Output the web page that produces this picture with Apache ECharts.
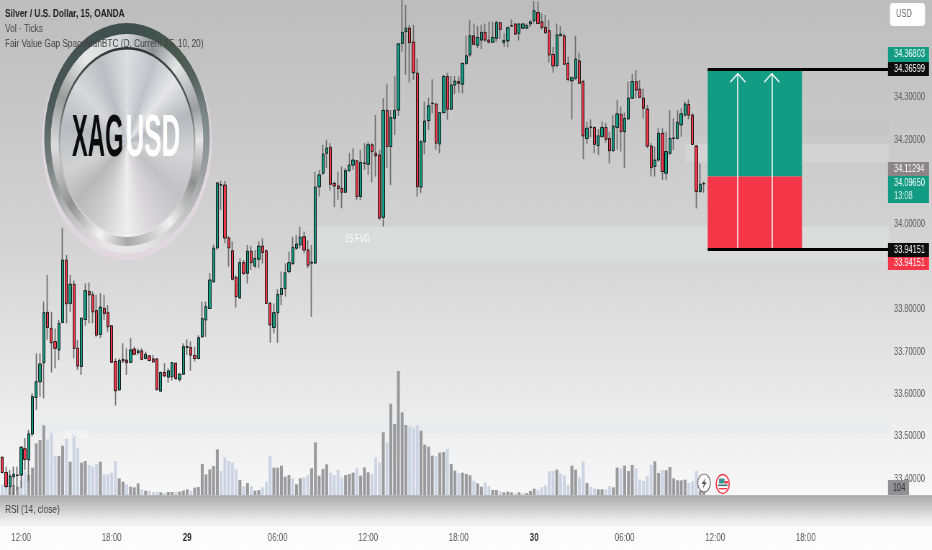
<!DOCTYPE html>
<html><head><meta charset="utf-8">
<style>html,body{margin:0;padding:0;background:#fff;width:932px;height:550px;overflow:hidden}#c{width:1295px;height:550px;transform:scaleX(0.71969);transform-origin:0 0}</style>
<script src="https://cdn.jsdelivr.net/npm/echarts@6/dist/echarts.min.js"></script>
</head><body><div id="c"></div>
<script>
const open=[33.451,33.415,33.382,33.405,33.409,33.409,33.471,33.445,33.506,33.592,33.629,33.674,33.793,33.755,33.724,33.704,33.769,33.916,33.814,33.859,33.708,33.665,33.776,33.842,33.834,33.797,33.741,33.802,33.792,33.761,33.677,33.610,33.682,33.680,33.675,33.706,33.698,33.702,33.684,33.690,33.683,33.683,33.607,33.651,33.640,33.641,33.673,33.635,33.647,33.712,33.710,33.691,33.684,33.735,33.775,33.802,33.865,33.945,34.093,34.093,33.968,33.938,33.875,33.827,33.910,33.885,33.937,33.902,33.918,33.949,33.938,33.814,33.757,33.792,33.835,33.849,33.889,33.908,33.944,33.952,33.971,33.940,33.909,33.909,34.089,34.121,34.168,34.182,34.097,34.091,34.085,34.076,34.127,34.140,34.150,34.066,34.144,34.142,34.188,34.168,34.164,34.017,34.269,34.184,34.250,34.270,34.427,34.455,34.463,34.430,34.357,34.088,34.195,34.245,34.285,34.284,34.190,34.264,34.349,34.272,34.329,34.337,34.331,34.380,34.400,34.445,34.423,34.435,34.453,34.435,34.430,34.439,34.476,34.429,34.433,34.468,34.473,34.451,34.463,34.463,34.473,34.481,34.500,34.478,34.465,34.457,34.401,34.375,34.445,34.445,34.380,34.339,34.345,34.386,34.337,34.203,34.229,34.229,34.186,34.207,34.229,34.203,34.174,34.229,34.260,34.219,34.249,34.298,34.337,34.319,34.298,34.272,34.185,34.137,34.152,34.215,34.121,34.168,34.203,34.203,34.235,34.258,34.283,34.258,34.185,34.078,34.096];
const close=[33.415,33.382,33.407,33.411,33.408,33.475,33.446,33.506,33.594,33.629,33.671,33.792,33.757,33.721,33.708,33.767,33.916,33.813,33.859,33.708,33.666,33.779,33.844,33.834,33.794,33.739,33.805,33.790,33.759,33.675,33.608,33.679,33.678,33.674,33.704,33.694,33.702,33.682,33.694,33.679,33.676,33.611,33.651,33.643,33.655,33.674,33.637,33.647,33.712,33.710,33.692,33.684,33.733,33.778,33.806,33.869,33.944,34.098,34.094,33.968,33.945,33.871,33.830,33.910,33.885,33.937,33.910,33.920,33.949,33.934,33.814,33.763,33.792,33.835,33.849,33.886,33.910,33.946,33.954,33.970,33.940,33.904,33.911,34.088,34.117,34.166,34.180,34.095,34.091,34.085,34.076,34.127,34.140,34.152,34.066,34.146,34.145,34.188,34.172,34.162,34.015,34.269,34.184,34.252,34.269,34.426,34.453,34.463,34.429,34.358,34.089,34.195,34.244,34.280,34.286,34.192,34.264,34.349,34.272,34.329,34.338,34.333,34.380,34.398,34.445,34.425,34.441,34.453,34.435,34.430,34.441,34.476,34.460,34.434,34.464,34.469,34.449,34.473,34.473,34.469,34.478,34.504,34.474,34.465,34.452,34.400,34.374,34.447,34.449,34.378,34.342,34.346,34.390,34.333,34.209,34.227,34.230,34.189,34.209,34.229,34.201,34.174,34.232,34.261,34.219,34.250,34.298,34.337,34.317,34.300,34.274,34.185,34.134,34.152,34.215,34.125,34.172,34.203,34.204,34.241,34.261,34.284,34.258,34.189,34.078,34.095,34.0965];
const high=[33.453,33.429,33.421,33.429,33.429,33.476,33.496,33.515,33.602,33.696,33.696,33.818,33.881,33.794,33.755,33.775,33.992,33.928,33.881,33.868,33.728,33.780,33.861,33.863,33.842,33.834,33.838,33.834,33.810,33.763,33.684,33.684,33.720,33.708,33.732,33.712,33.708,33.708,33.700,33.692,33.692,33.684,33.653,33.673,33.661,33.676,33.674,33.649,33.720,33.729,33.724,33.712,33.739,33.818,33.818,33.885,33.952,34.100,34.103,34.103,33.973,33.960,33.880,33.920,33.916,33.952,33.949,33.940,33.960,33.967,33.941,33.818,33.814,33.847,33.889,33.908,33.936,33.971,33.975,33.995,33.983,33.963,33.952,34.125,34.129,34.188,34.199,34.192,34.101,34.125,34.137,34.133,34.168,34.180,34.152,34.176,34.192,34.195,34.192,34.258,34.176,34.298,34.331,34.270,34.350,34.427,34.529,34.518,34.471,34.471,34.392,34.199,34.290,34.299,34.343,34.287,34.265,34.353,34.358,34.350,34.350,34.349,34.382,34.445,34.482,34.474,34.468,34.471,34.474,34.478,34.478,34.481,34.478,34.451,34.467,34.484,34.474,34.474,34.474,34.474,34.482,34.527,34.526,34.498,34.494,34.482,34.419,34.474,34.468,34.451,34.396,34.349,34.445,34.405,34.341,34.243,34.248,34.231,34.225,34.243,34.240,34.219,34.258,34.294,34.278,34.264,34.337,34.355,34.364,34.341,34.321,34.282,34.192,34.184,34.227,34.227,34.219,34.270,34.250,34.269,34.274,34.290,34.295,34.262,34.188,34.144,34.101];
const low=[33.413,33.378,33.362,33.362,33.374,33.378,33.421,33.394,33.500,33.563,33.594,33.590,33.728,33.651,33.661,33.680,33.767,33.767,33.794,33.684,33.657,33.645,33.761,33.767,33.767,33.735,33.732,33.775,33.747,33.674,33.573,33.608,33.673,33.645,33.673,33.692,33.692,33.680,33.682,33.679,33.674,33.608,33.606,33.641,33.627,33.632,33.633,33.629,33.645,33.692,33.655,33.677,33.682,33.734,33.735,33.802,33.863,33.940,34.034,33.956,33.901,33.868,33.804,33.824,33.881,33.861,33.893,33.897,33.897,33.908,33.813,33.721,33.743,33.721,33.810,33.830,33.885,33.904,33.940,33.944,33.932,33.897,33.782,33.907,34.066,34.117,34.133,34.080,34.041,34.058,34.038,34.074,34.125,34.129,34.058,34.058,34.129,34.117,34.099,34.113,34.011,33.995,34.133,34.093,34.211,34.256,34.408,34.353,34.335,34.341,34.066,34.074,34.166,34.223,34.262,34.176,34.168,34.262,34.247,34.270,34.308,34.311,34.309,34.376,34.396,34.423,34.416,34.414,34.431,34.427,34.429,34.431,34.437,34.419,34.418,34.467,34.447,34.434,34.463,34.461,34.465,34.474,34.473,34.460,34.451,34.382,34.358,34.370,34.445,34.376,34.337,34.248,34.341,34.333,34.154,34.190,34.206,34.168,34.164,34.206,34.193,34.144,34.172,34.176,34.172,34.133,34.247,34.296,34.298,34.298,34.250,34.180,34.113,34.113,34.148,34.105,34.105,34.164,34.176,34.201,34.207,34.254,34.248,34.188,34.038,34.075,34.075];
const volume=[160,235,125,150,125,225,360,300,410,775,825,1045,835,935,585,585,740,850,500,925,700,485,510,450,425,465,500,310,310,335,510,250,200,160,125,115,175,85,65,65,45,45,40,30,45,45,45,50,65,85,65,110,120,465,310,385,435,685,360,565,515,485,385,225,135,180,135,65,75,115,200,590,410,410,440,275,300,250,160,250,265,300,400,790,290,390,460,335,300,375,260,300,315,335,400,290,415,340,315,565,490,940,790,1370,1065,1860,1240,1050,1025,1000,1045,965,755,725,590,585,635,645,690,465,365,325,335,315,295,215,175,125,190,135,75,75,55,40,50,40,25,40,25,30,60,95,75,120,145,360,360,380,325,295,150,440,380,265,505,180,125,100,85,85,85,135,115,410,400,440,360,450,400,235,210,285,450,505,330,375,370,420,250,220,220,230,180,205,360,60,104];
const volumeShade=("lldddllddd"+"ddllldd"+"ldl"+"lddllldlll"+"lddldddldl"+"lldlddlddd"+"ldddddddll"+"llldldlddl"+"lldddddldd"+"lldddddlll"+"ldddldddll"+"ldldddddll"+"lddddlddld"+"dldddlddll"+"ddldddldld"+"ddllllldll"+"lddlldlldd"+"llddldddll"+"lllddldddd"+"ddllldd").split("");
const barCount=236;
const tickBars=[5,29,49,73,97,121,141,165,189,213];
const tickLabels=["12:00","18:00","29","06:00","12:00","18:00","30","06:00","12:00","18:00"];
const shownPriceTicks=[33.4,33.5,33.6,33.7,33.8,34.0,34.2,34.3];
const tradeTop=34.36599,tradeEntry=34.11294,tradeStop=33.94151;
const fvgBands=[[83,235,33.996,33.911],[9,235,33.537,33.509],[181,235,34.246,34.206],[181,235,34.190,34.147]];
const tradeBars=[187,212];
const arrowBars=[195,204];
const arrowTop=34.356,arrowWing=34.336,arrowBottom=33.945;
const categories=Array.from({length:barCount},(_,i)=>"b"+i);

const SX=932/1295;
const X=v=>v/SX;
const GREEN="#129c84",RED="#f43648";
const FONT='"Liberation Sans",sans-serif';
const fmt=v=>v.toFixed(5);

function logo(){
  const c=document.createElement("canvas");c.width=1295;c.height=550;
  const x=c.getContext("2d");
  const cx=X(127);
  const disc=(cy,r,fill)=>{x.save();x.translate(cx,cy);x.beginPath();x.arc(0,0,r,0,Math.PI*2);x.fillStyle=fill(x);x.fill();x.restore();};
  const conic=(stops)=>(g)=>{const o=g.createConicGradient(-Math.PI/2,0,0);stops.forEach(s=>o.addColorStop(s[0],s[1]));return o;};
  disc(142,118,()=> "rgba(226,216,222,.85)");
  disc(138,115,conic([[0,"#3e4f4c"],[.1,"#46574f"],[.16,"#56645f"],[.22,"#7d8a88"],[.3,"#9aa09f"],[.38,"#c8c8c8"],[.47,"#e8e8e8"],[.55,"#e8e4e6"],[.63,"#bdbdbd"],[.72,"#6f7b78"],[.8,"#4a5a56"],[.9,"#43534f"],[1,"#3e4f4c"]]));
  disc(140,106,conic([[0,"#d0d4d4"],[.06,"#8e9294"],[.12,"#e4e6e6"],[.2,"#9a9c9e"],[.25,"#e6e6e6"],[.32,"#8f8f8f"],[.4,"#f0f0f0"],[.5,"#a8a8a8"],[.56,"#f4f4f4"],[.64,"#909090"],[.74,"#dcdcdc"],[.82,"#9a9c9c"],[.9,"#e8e8e8"],[1,"#d0d4d4"]]));
  disc(142,95,conic([[0,"#2a2f2f"],[.18,"#555"],[.26,"#b0b0b0"],[.5,"#f2f2f2"],[.74,"#b0b0b0"],[.82,"#555"],[1,"#2a2f2f"]]));
  disc(142.5,93,conic([[0,"#dcdde0"],[.07,"#bfc3c8"],[.13,"#e6e6e8"],[.2,"#b6b8bd"],[.27,"#d4d4d6"],[.35,"#c2c2c4"],[.44,"#d8d6d8"],[.5,"#eeeeee"],[.57,"#cfcfd0"],[.64,"#b8b8b8"],[.7,"#d2d2d2"],[.78,"#b8bbc0"],[.86,"#d6d8da"],[.93,"#bbbec2"],[1,"#dcdde0"]]));
  return c;
}
function txt(x,y,text,size,fill,o){
  o=o||{};
  return {type:"text",x:X(x),y:y,scaleX:o.sx||1,z:o.z||20,silent:true,
    style:{text:text,fill:fill,font:(o.weight||"normal")+" "+size+"px "+FONT,textAlign:o.align||"left",textVerticalAlign:"middle",shadowBlur:o.blur||0,shadowColor:o.shadow||"transparent"}};
}
function rect(x,y,w,h,fill,o){
  o=o||{};
  return {type:"rect",z:o.z||15,silent:true,shape:{x:X(x),y:y,width:X(w),height:h,r:o.r||0},style:{fill:fill}};
}
function tag(y0,y1,bg,label,fg){
  return [rect(888,y0,41,y1-y0,bg),txt(894,(y0+y1)/2,label,10.3,fg||"#fff")];
}
const graphics=[
  {type:"image",z:0,silent:true,x:0,y:0,style:{image:logo(),x:0,y:0,width:1295,height:550}},
  txt(72,139,"XAG",60,"#0c0c0c",{weight:"bold",sx:.55,z:1,blur:6,shadow:"rgba(0,0,0,.45)"}),
  txt(125.5,139,"USD",60,"#ffffff",{weight:"bold",sx:.6,z:1,blur:6,shadow:"rgba(60,60,60,.7)"}),
  txt(5,14,"Silver / U.S. Dollar, 15, OANDA",11.5,"#222",{weight:"bold"}),
  txt(5,29,"Vol \u00b7 Ticks",11.5,"#444"),
  txt(5,44,"Fair Value Gap SpaceManBTC (D, Current TF, 10, 20)",11.5,"#444"),
  txt(63,435,"15 FVG",10,"#ffffff"),
  txt(345,239,"15 FVG",10,"#ffffff"),
  txt(5,510,"RSI (14, close)",11.5,"#444"),
  rect(890,3,35,23,"#fff",{r:4}),
  txt(896,14.5,"USD",10.5,"#666"),
  ...tag(47,62,GREEN,"34.36803"),
  ...tag(62,76,"#0d0d0d",fmt(tradeTop)),
  ...tag(162,176,"#8b8587",fmt(tradeEntry)),
  rect(888,176,41,27,GREEN),
  txt(894,183.5,"34.09650",10.3,"#fff"),
  txt(894,196.5,"13:08",10.3,"#d8efe9"),
  ...tag(243,257,"#0d0d0d",fmt(tradeStop)),
  ...tag(257,270,RED,fmt(tradeStop)),
  rect(888,480,21,15,"#919194"),
  txt(893,488,"104",10.3,"#2a2a2a"),
  rect(0,524.5,932,1,"#e6e6e6",{z:16}),
  rect(0,495,932,1,"#b8b8b8",{z:16}),
  {type:"group",scaleX:1/SX,children:[
    {type:"ellipse",z:15,silent:true,shape:{cx:704,cy:483,rx:6.3,ry:9},style:{fill:"#fff",stroke:"#7b6f72",lineWidth:1}},
    {type:"polygon",z:16,silent:true,shape:{points:[[705.5,478],[701.5,484],[703.8,484],[702.8,488.5],[706.8,482.3],[704.5,482.3]]},style:{fill:"#5f5558"}},
    {type:"ellipse",z:15,silent:true,shape:{cx:722.7,cy:484,rx:6.5,ry:9.5},style:{fill:"#fff",stroke:RED,lineWidth:1.3}},
    {type:"rect",z:16,silent:true,shape:{x:719,y:478.5,width:5.5,height:5},style:{fill:"#3d8f94"}},
    {type:"rect",z:16,silent:true,shape:{x:724.5,y:481,width:3.5,height:2.5},style:{fill:RED}},
    {type:"rect",z:16,silent:true,shape:{x:718,y:484.5,width:9.5,height:1.6},style:{fill:"#3d6f74"}},
    {type:"rect",z:16,silent:true,shape:{x:719,y:488,width:8,height:1.4},style:{fill:RED}}
  ]}
];
const bandStyle=[{color:"#dadbdb"},{color:"#e9ecec"},{color:"#c6c6c6"},{color:"#d3d3d3"}];
const areas=fvgBands.map((b,i)=>[{coord:[b[0],b[2]],itemStyle:Object.assign({opacity:1},bandStyle[i])},{coord:[b[1],b[3]]}]);
areas.push([{coord:[tradeBars[0],tradeTop],itemStyle:{color:GREEN,opacity:1}},{coord:[tradeBars[1],tradeEntry]}]);
areas.push([{coord:[tradeBars[0],tradeEntry],itemStyle:{color:RED,opacity:1}},{coord:[tradeBars[1],tradeStop]}]);
const white={color:"#f4f4f4",width:1.6,type:"solid",opacity:1};
const black={color:"#000",width:3,type:"solid",opacity:1};
const lines=[
  [{coord:[tradeBars[0],tradeTop],lineStyle:black},{coord:[235,tradeTop]}],
  [{coord:[tradeBars[0],tradeStop],lineStyle:black},{coord:[235,tradeStop]}]
];
arrowBars.forEach(a=>{
  lines.push([{coord:[a,arrowTop],lineStyle:white},{coord:[a,arrowBottom]}]);
  lines.push([{coord:[a-2,arrowWing],lineStyle:white},{coord:[a,arrowTop]}]);
  lines.push([{coord:[a,arrowTop],lineStyle:white},{coord:[a+2,arrowWing]}]);
});
const chart=echarts.init(document.getElementById("c"),null,{renderer:"canvas"});
chart.setOption({
  animation:false,
  backgroundColor:{type:"linear",x:0,y:0,x2:0,y2:1,colorStops:[
    {offset:0,color:"#bdbdbd"},{offset:.45,color:"#d4d4d4"},{offset:.9,color:"#f8f8f8"},
    {offset:.9,color:"#a9a9a9"},{offset:.953,color:"#f6f6f6"},{offset:.953,color:"#fbfbfb"},{offset:1,color:"#fdfdfd"}]},
  graphic:{elements:graphics},
  grid:{left:X(.4),top:0,width:X(890.2),height:495,containLabel:false,outerBoundsMode:"none"},
  xAxis:{type:"category",data:categories,boundaryGap:true,z:3,
    axisLine:{show:false},axisTick:{show:false},splitLine:{show:false},
    axisLabel:{show:true,margin:37,fontFamily:FONT,fontSize:11,color:"#555",hideOverlap:false,
      interval:i=>tickBars.includes(i),
      formatter:(v,i)=>{const n=tickBars.indexOf(i);if(n<0)return"";const t=tickLabels[n];return t.length<3?"{d|"+t+"}":t;},
      rich:{d:{fontFamily:FONT,fontSize:11,fontWeight:"bold",color:"#222"}}}},
  yAxis:[
    {type:"value",position:"right",min:33.362,max:34.5295,z:3,scale:true,
      axisLine:{show:false},axisTick:{show:false},splitLine:{show:false},
      axisLabel:{show:true,customValues:shownPriceTicks,margin:X(3.4),fontFamily:FONT,fontSize:10.3,color:"#5a5a5a",formatter:fmt}},
    {type:"value",min:0,max:7425,show:false,splitLine:{show:false}}
  ],
  series:[
    {type:"bar",name:"Vol",yAxisIndex:1,barWidth:X(2.9),z:1.5,silent:true,data:volume,
      itemStyle:{color:p=>volumeShade[p.dataIndex]==="d"?"#9a9a9c":"#ccd3e3"}},
    {type:"candlestick",name:"Wicks",z:2,silent:true,barWidth:1,
      itemStyle:{color:"#6c6c6c",color0:"#6c6c6c",borderColor:"#6c6c6c",borderColor0:"#6c6c6c",borderWidth:1.7},
      data:open.map((o,i)=>[o,close[i],low[i],high[i]])},
    {type:"candlestick",name:"XAGUSD",z:3,silent:true,barWidth:X(2.7),
      itemStyle:{color:GREEN,color0:RED,borderColor:"#161616",borderColor0:"#161616",borderWidth:1},
      data:open.map((o,i)=>[o,close[i],Math.min(o,close[i]),Math.max(o,close[i])]),
      markArea:{silent:true,z:1,data:areas},
      markLine:{silent:true,z:5,symbol:"none",label:{show:false},animation:false,data:lines}}
  ]
});
</script></body></html>
